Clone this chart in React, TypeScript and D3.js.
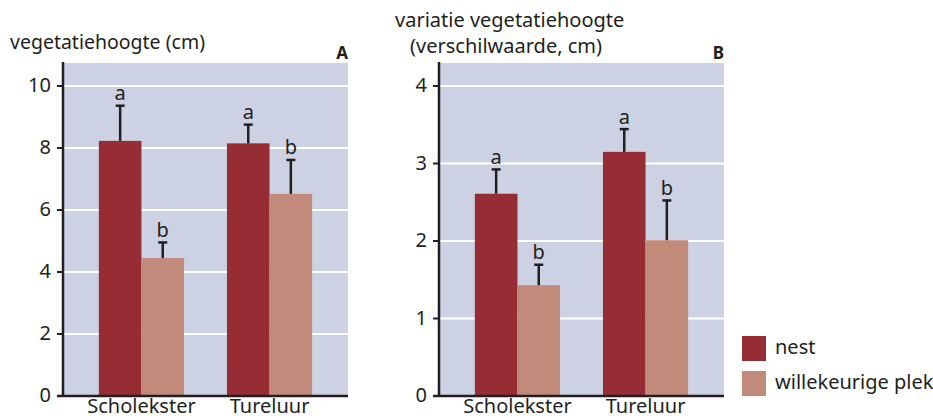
import React from "react";
import * as d3 from "d3";

const categories = ["Scholekster", "Tureluur"];
const seriesNames = ["nest", "willekeurige plek"];

// Panel A: vegetatiehoogte (cm)
const aNest = [8.23, 8.15];
const aNestErr = [9.38, 8.77];
const aRandom = [4.45, 6.52];
const aRandomErr = [4.97, 7.63];
const aTicks = [0, 2, 4, 6, 8, 10];

// Panel B: variatie vegetatiehoogte
const bNest = [2.61, 3.15];
const bNestErr = [2.93, 3.45];
const bRandom = [1.43, 2.01];
const bRandomErr = [1.7, 2.53];
const bTicks = [0, 1, 2, 3, 4];

const letters = [["a", "b"], ["a", "b"]]; // per category: nest, random

const COLORS = ["#962c34", "#c28a7b"];
const BG = "#ccd1e4";
const INK = "#231f20";
const FONT = "'Noto Sans', 'Open Sans', sans-serif";

type PanelProps = {
  x0: number;
  x1: number;
  tickMax: number;
  ticks: number[];
  values: number[][];
  errs: number[][];
  tag: string;
};

function Panel({ x0, x1, tickMax, ticks, values, errs, tag }: PanelProps) {
  const baseY = 396;
  const y = d3.scaleLinear().domain([0, tickMax]).range([baseY, 86]);
  const plotTop = 63;
  const x = d3
    .scaleBand<string>()
    .domain(categories)
    .range([x0, x1])
    .paddingInner(0.335)
    .paddingOuter(0.28);
  const xs = d3
    .scaleBand<string>()
    .domain(seriesNames)
    .range([0, x.bandwidth()])
    .padding(0);

  return (
    <g>
      <rect x={x0} y={plotTop} width={x1 - x0} height={baseY - plotTop} fill={BG} />
      {ticks
        .filter((t) => t > 0)
        .map((t) => (
          <line key={"g" + t} x1={x0} x2={x1} y1={y(t)} y2={y(t)} stroke="#fff" strokeWidth={2} />
        ))}
      {categories.map((c, ci) =>
        seriesNames.map((s, si) => {
          const v = values[si][ci];
          const e = errs[si][ci];
          const bx = (x(c) as number) + (xs(s) as number);
          const cx = bx + xs.bandwidth() / 2;
          return (
            <g key={c + s}>
              <rect x={bx} y={y(v)} width={xs.bandwidth()} height={baseY - y(v)} fill={COLORS[si]} />
              <line x1={cx} x2={cx} y1={y(v)} y2={y(e)} stroke={INK} strokeWidth={2.5} />
              <line x1={cx - 4.5} x2={cx + 4.5} y1={y(e) + 0.5} y2={y(e) + 0.5} stroke={INK} strokeWidth={2.5} />
              <text
                x={cx}
                y={y(e) - 5}
                textAnchor="middle"
                fontSize={20}
                fontFamily={FONT}
                fill={INK}
              >
                {letters[ci][si]}
              </text>
            </g>
          );
        })
      )}
      {/* axes */}
      <line x1={x0} x2={x0} y1={plotTop - 1} y2={baseY + 1} stroke={INK} strokeWidth={2.5} />
      <line x1={x0 - 6} x2={x1} y1={baseY} y2={baseY} stroke={INK} strokeWidth={2.5} />
      {ticks.map((t) => (
        <g key={"t" + t}>
          <line x1={x0 - 6} x2={x0} y1={y(t)} y2={y(t)} stroke={INK} strokeWidth={2} />
          <text
            x={x0 - 12}
            y={y(t) + 6}
            textAnchor="end"
            fontSize={20}
            fontFamily={FONT}
            fill={INK}
          >
            {t}
          </text>
        </g>
      ))}
      {categories.map((c) => (
        <text
          key={"c" + c}
          x={(x(c) as number) + x.bandwidth() / 2}
          y={413}
          textAnchor="middle"
          fontSize={20}
          fontFamily={FONT}
          fill={INK}
        >
          {c}
        </text>
      ))}
      <text x={x1} y={59} textAnchor="end" fontSize={17} fontWeight="bold" fontFamily={FONT} fill={INK}>
        {tag}
      </text>
    </g>
  );
}

export default function App() {
  return (
    <svg
      width={933}
      height={418}
      style={{ position: "absolute", left: 0, top: 0, background: "#fff" }}
    >
      <text x={10} y={49} fontSize={19.5} fontFamily={FONT} fill={INK}>
        vegetatiehoogte (cm)
      </text>
      <text x={395} y={27} fontSize={20} fontFamily={FONT} fill={INK}>
        variatie vegetatiehoogte
      </text>
      <text x={410} y={53} fontSize={20} fontFamily={FONT} fill={INK}>
        (verschilwaarde, cm)
      </text>
      <Panel
        x0={63}
        x1={348}
        tickMax={10}
        ticks={aTicks}
        values={[aNest, aRandom]}
        errs={[aNestErr, aRandomErr]}
        tag="A"
      />
      <Panel
        x0={439}
        x1={724}
        tickMax={4}
        ticks={bTicks}
        values={[bNest, bRandom]}
        errs={[bNestErr, bRandomErr]}
        tag="B"
      />
      {seriesNames.map((s, i) => (
        <g key={"l" + s}>
          <rect x={742} y={336 + i * 35} width={24} height={25} fill={COLORS[i]} />
          <text x={775} y={354 + i * 35} fontSize={20} fontFamily={FONT} fill={INK}>
            {s}
          </text>
        </g>
      ))}
    </svg>
  );
}
